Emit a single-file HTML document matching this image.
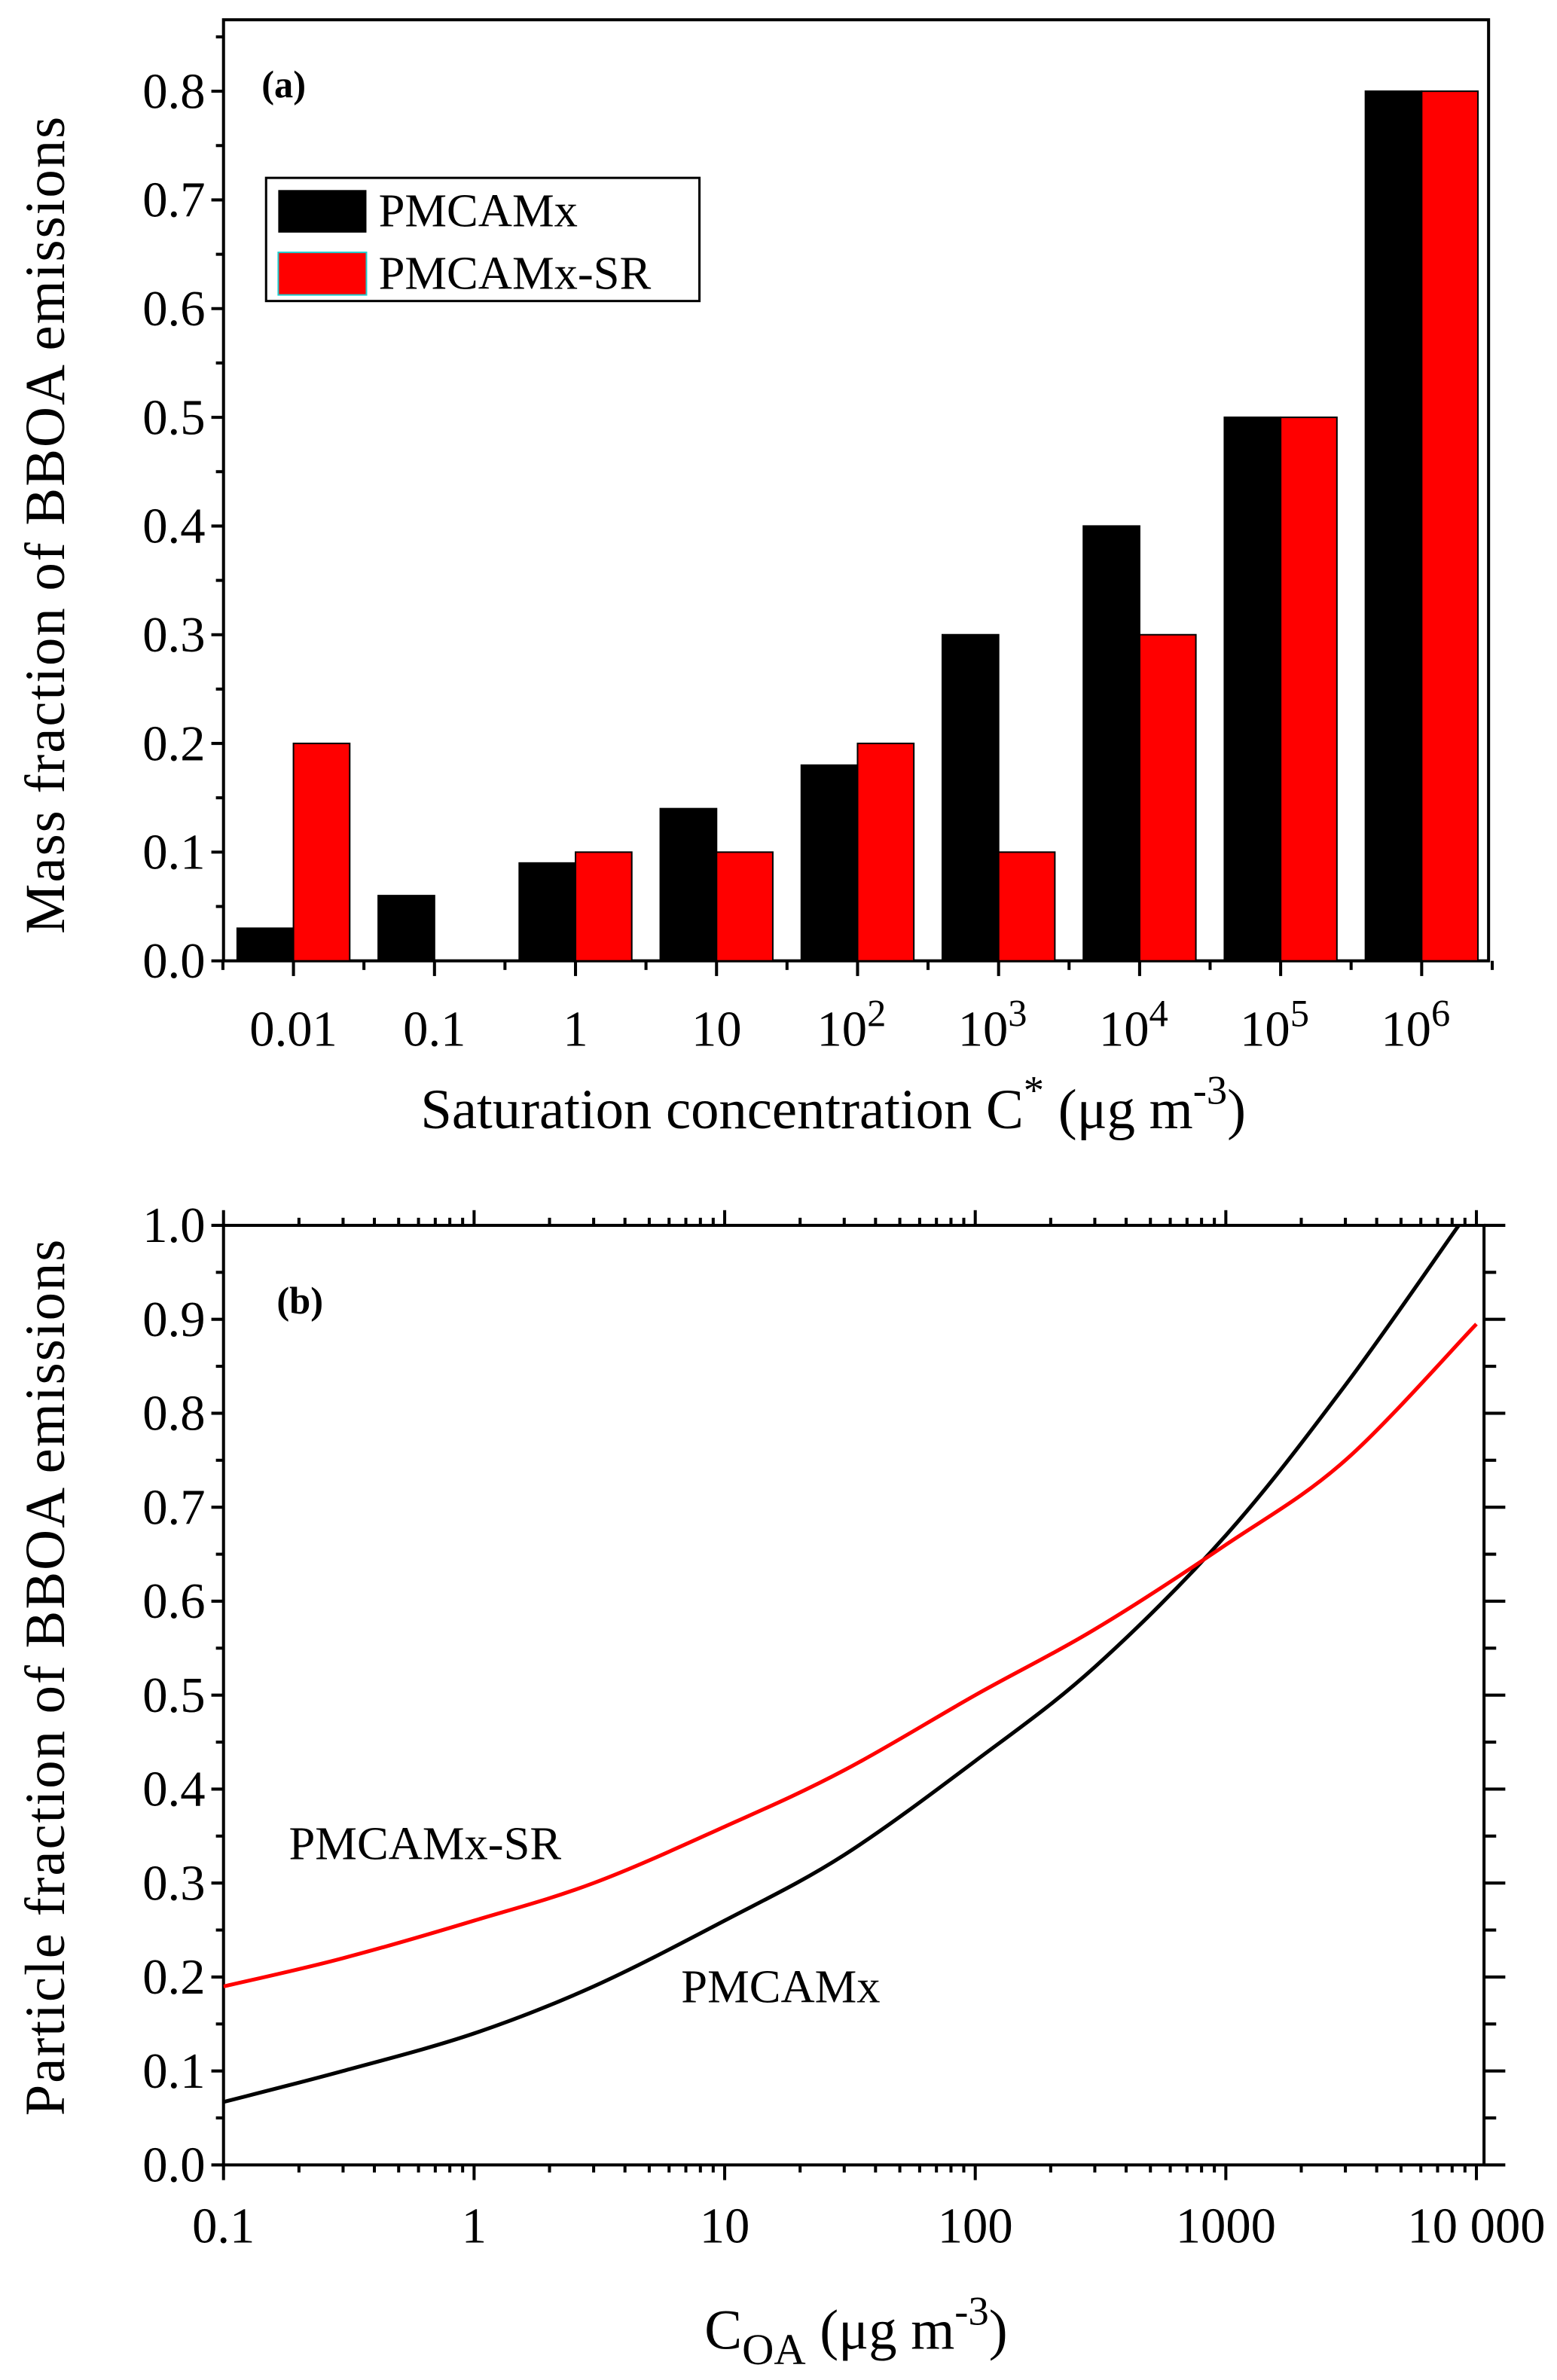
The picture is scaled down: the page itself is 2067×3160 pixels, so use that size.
<!DOCTYPE html>
<html><head><meta charset="utf-8"><style>
html,body{margin:0;padding:0;background:#fff;}
svg, svg text{font-family:"Liberation Serif","Times New Roman",serif;}
</style></head><body>
<svg id="fig" width="2067" height="3155" viewBox="0 0 1024 1563" preserveAspectRatio="none" xmlns="http://www.w3.org/2000/svg" font-family="Liberation Serif, serif">
<g id="pa"></g>
<g id="pb"></g>
</svg>
<script>
// Panel (a) data
const catsA = ["0.01","0.1","1","10","10^2","10^3","10^4","10^5","10^6"];
const pmcamx = [0.03,0.06,0.09,0.14,0.18,0.30,0.40,0.50,0.80];
const pmcamxSR = [0.20,0.00,0.10,0.10,0.20,0.10,0.30,0.50,0.80];
const yTicksA = [0.0,0.1,0.2,0.3,0.4,0.5,0.6,0.7,0.8];
// Panel (b) data
const coaX = [0.1,0.3,1,3,10,30,100,300,1000,3000,8500];
const fracPM = [0.067,0.10,0.14,0.19,0.26,0.33,0.43,0.53,0.67,0.83,1.0];
const coaXSR = [0.1,0.3,1,3,10,30,100,300,1000,3000,10000];
const fracSR = [0.19,0.22,0.26,0.30,0.36,0.42,0.50,0.57,0.66,0.75,0.895];
const yTicksB = [0.0,0.1,0.2,0.3,0.4,0.5,0.6,0.7,0.8,0.9,1.0];
const xTicksB = [0.1,1,10,100,1000,10000];
const xTickLabelsB = ["0.1","1","10","100","1000","10 000"];

const NS="http://www.w3.org/2000/svg";
function mk(parent,tag,attrs,text){const e=document.createElementNS(NS,tag);for(const k in attrs)e.setAttribute(k,attrs[k]);if(text!==undefined)e.textContent=text;parent.appendChild(e);return e;}

// ---------- Panel A ----------
const pa=document.getElementById('pa');
const aL=147,aR=979,aT=13,aB=632;
const ya=v=>aB-v*715;
const xa=i=>193+i*92.75;
const bw=37;
let fr=mk(pa,'rect',{x:aL,y:aT,width:aR-aL,height:aB-aT,fill:'none',stroke:'#000','stroke-width':2});


catsA.forEach((c,i)=>{
  let b=mk(pa,'rect',{x:xa(i)-bw,y:ya(pmcamx[i]),width:bw,height:aB-ya(pmcamx[i]),fill:'#000',stroke:'#000','stroke-width':1});
  
  
  let r=mk(pa,'rect',{x:xa(i),y:ya(pmcamxSR[i]),width:bw,height:aB-ya(pmcamxSR[i]),fill:'#ff0000',stroke:'#000','stroke-width':1});
  
  
  mk(pa,'line',{x1:xa(i),y1:aB,x2:xa(i),y2:aB+10,stroke:'#000','stroke-width':2});
  mk(pa,'line',{x1:xa(i)-46.4,y1:aB,x2:xa(i)-46.4,y2:aB+6,stroke:'#000','stroke-width':2});
  let t;
  if(c.indexOf('^')>0){
    const p=c.split('^');
    t=mk(pa,'text',{x:xa(i)-4,y:688,'font-size':33,'text-anchor':'middle'});
    mk(t,'tspan',{},p[0]);
    mk(t,'tspan',{dy:-13,'font-size':25},p[1]);
  } else t=mk(pa,'text',{x:xa(i),y:688,'font-size':33,'text-anchor':'middle'},c);
  
  
});
mk(pa,'line',{x1:xa(8)+46.4,y1:aB,x2:xa(8)+46.4,y2:aB+6,stroke:'#000','stroke-width':2});
yTicksA.forEach(v=>{
  mk(pa,'line',{x1:aL-8,y1:ya(v),x2:aL,y2:ya(v),stroke:'#000','stroke-width':2});
  mk(pa,'line',{x1:aL-5,y1:ya(v+0.05),x2:aL,y2:ya(v+0.05),stroke:'#000','stroke-width':2});
  let t=mk(pa,'text',{x:aL-12,y:ya(v)+11,'font-size':33,'text-anchor':'end'},v.toFixed(1));
  
  
});
let ta=mk(pa,'text',{x:172,y:64,'font-size':25,'font-weight':'bold'},'(a)');

let lg=mk(pa,'g',{});


mk(lg,'rect',{x:175,y:117,width:285,height:81,fill:'#fff',stroke:'#000','stroke-width':1.5});
mk(lg,'rect',{x:183,y:125,width:58,height:28,fill:'#000'});
mk(lg,'rect',{x:183,y:166,width:58,height:28,fill:'#ff0000',stroke:'#2cc','stroke-width':1});
mk(lg,'text',{x:249,y:149,'font-size':31},'PMCAMx');
mk(lg,'text',{x:249,y:190,'font-size':31},'PMCAMx-SR');
let yla=mk(pa,'text',{x:42,y:345,'font-size':37,'text-anchor':'middle',transform:'rotate(-90 42 345)','letter-spacing':'1'},'Mass fraction of  BBOA emissions');

let xla=mk(pa,'text',{x:548,y:742,'font-size':37,'text-anchor':'middle'});

mk(xla,'tspan',{},'Saturation concentration  C');
mk(xla,'tspan',{dy:-16,'font-size':27},'*');
mk(xla,'tspan',{dy:16},' (μg m');
mk(xla,'tspan',{dy:-16,'font-size':27},'-3');
mk(xla,'tspan',{dy:16},')');

// ---------- Panel B ----------
const pb=document.getElementById('pb');
const bL=147,bR=976,bT=806,bB=1424;
const yb=v=>bB-v*(bB-bT);
const xb=v=>bL+(Math.log10(v)+1)*164.8;
mk(pb,'defs',{}).innerHTML='<clipPath id="cb"><rect x="147" y="806" width="829" height="618"/></clipPath>';
let fb=mk(pb,'rect',{x:bL,y:bT,width:bR-bL,height:bB-bT,fill:'none',stroke:'#000','stroke-width':2});

for(let d=-1;d<4;d++){for(let m=1;m<10;m++){const v=m*Math.pow(10,d);const x=xb(v);const L=m===1?10:5;
  mk(pb,'line',{x1:x,y1:bB,x2:x,y2:bB+L,stroke:'#000','stroke-width':2});
  mk(pb,'line',{x1:x,y1:bT,x2:x,y2:bT-L,stroke:'#000','stroke-width':2});}}
mk(pb,'line',{x1:xb(10000),y1:bB,x2:xb(10000),y2:bB+10,stroke:'#000','stroke-width':2});
mk(pb,'line',{x1:xb(10000),y1:bT,x2:xb(10000),y2:bT-10,stroke:'#000','stroke-width':2});
xTicksB.forEach((v,i)=>{
  let t=mk(pb,'text',{x:xb(v),y:1475,'font-size':33,'text-anchor':'middle'},xTickLabelsB[i]);
  
});
yTicksB.forEach(v=>{
  mk(pb,'line',{x1:bL-8,y1:yb(v),x2:bL,y2:yb(v),stroke:'#000','stroke-width':2});
  mk(pb,'line',{x1:bR,y1:yb(v),x2:bR+14,y2:yb(v),stroke:'#000','stroke-width':2});
  if(v<1){mk(pb,'line',{x1:bL-5,y1:yb(v+0.05),x2:bL,y2:yb(v+0.05),stroke:'#000','stroke-width':2});
  mk(pb,'line',{x1:bR,y1:yb(v+0.05),x2:bR+8,y2:yb(v+0.05),stroke:'#000','stroke-width':2});}
  let t=mk(pb,'text',{x:bL-12,y:yb(v)+11,'font-size':33,'text-anchor':'end'},v.toFixed(1));
  
});
function pathFrom(xs,ys){
  const P=xs.map((x,i)=>[xb(x),yb(ys[i])]);
  let d='M'+P[0][0].toFixed(1)+','+P[0][1].toFixed(1);
  for(let i=0;i<P.length-1;i++){
    const p0=P[i-1]||P[i],p1=P[i],p2=P[i+1],p3=P[i+2]||P[i+1];
    const c1=[p1[0]+(p2[0]-p0[0])/6,p1[1]+(p2[1]-p0[1])/6];
    const c2=[p2[0]-(p3[0]-p1[0])/6,p2[1]-(p3[1]-p1[1])/6];
    d+=' C'+c1.map(n=>n.toFixed(1)).join(',')+' '+c2.map(n=>n.toFixed(1)).join(',')+' '+p2.map(n=>n.toFixed(1)).join(',');
  }
  return d;
}
let lp=mk(pb,'path',{d:pathFrom(coaX,fracPM),fill:'none',stroke:'#000','stroke-width':2.5,'clip-path':'url(#cb)'});

let ls=mk(pb,'path',{d:pathFrom(coaXSR,fracSR),fill:'none',stroke:'#ff0000','stroke-width':2.5,'clip-path':'url(#cb)'});

let tb=mk(pb,'text',{x:182,y:864,'font-size':25,'font-weight':'bold'},'(b)');

let l1=mk(pb,'text',{x:190,y:1223,'font-size':31},'PMCAMx-SR');

let l2=mk(pb,'text',{x:448,y:1317,'font-size':31},'PMCAMx');

let ylb=mk(pb,'text',{x:42,y:1103,'font-size':37,'text-anchor':'middle',transform:'rotate(-90 42 1103)','letter-spacing':'1'},'Particle fraction of  BBOA emissions');

let xlb=mk(pb,'text',{x:563,y:1545,'font-size':37,'text-anchor':'middle'});

mk(xlb,'tspan',{},'C');
mk(xlb,'tspan',{dy:10,'font-size':29},'OA');
mk(xlb,'tspan',{dy:-10},' (μg m');
mk(xlb,'tspan',{dy:-16,'font-size':27},'-3');
mk(xlb,'tspan',{dy:16},')');
</script>
</body></html>
